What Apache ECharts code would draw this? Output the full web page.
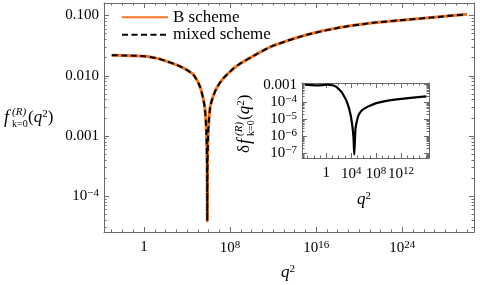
<!DOCTYPE html>
<html>
<head>
<meta charset="utf-8">
<script src="https://cdn.jsdelivr.net/npm/echarts@6/dist/echarts.min.js"></script>
<style>
  html, body { margin: 0; padding: 0; background: #fff; }
  #chart { width: 480px; height: 285px; }
</style>
</head>
<body>
<div id="chart"></div>
<script>
// main panel: log10(q^2) and log10(f)
const q2Exp = [-3.0, -2.0, -1.0, 0.0, 0.56, 1.3, 2.11, 2.9, 3.65, 4.58, 5.2, 5.5, 5.67, 5.8, 5.86, 5.88,
  5.9, 5.96, 6.05, 6.15, 6.35, 6.76, 7.38, 8.31, 8.92, 10.47, 12.02, 15.12, 18.2, 21.3, 24.4, 27.5, 30.0]
const fExp = [-1.66, -1.662, -1.666, -1.676, -1.687, -1.715, -1.76, -1.81, -1.87, -1.98, -2.18, -2.38, -2.56, -2.95, -3.5, -4.41,
  -3.5, -2.95, -2.7, -2.52, -2.38, -2.2, -2.04, -1.88, -1.8, -1.64, -1.5, -1.32, -1.2, -1.12, -1.07, -1.02, -0.98]

// inset: log10(q^2) and log10(delta f)
const dq2Exp = [-3.4, -2.5, -1.45, -0.5, 0.16, 1.0, 1.5, 2.0, 2.57, 3.38, 3.9, 4.23, 4.38, 4.5,
  4.62, 4.71, 5.0, 5.24, 5.7, 6.32, 7.2, 8.2, 10.34, 13.55, 16.08]
const dfExp = [-3.0, -3.02, -3.04, -3.02, -3.0, -3.03, -3.1, -3.25, -3.48, -4.06, -4.74, -5.52, -6.1, -7.07,
  -6.1, -5.52, -5.0, -4.74, -4.5, -4.35, -4.2, -4.06, -3.9, -3.77, -3.68]

const mainXTicks = [0, 8, 16, 24]
const mainYTicks = [-4, -3, -2, -1]
const insetXTicks = [0, 4, 8, 12]
const insetYTicks = [-7, -6, -5, -4, -3]

const mainX = [-3.72, 30.67]
const mainY = [-4.594, -0.792]
const insetX = [-3.89, 16.5]
const insetY = [-7.27, -2.9]

const FONT = 'Liberation Serif'
const FRAME = '#6b6b6b'
const ORANGE = '#f47321'

function decades(r) {
  const t = []
  for (let v = Math.ceil(r[0]); v <= r[1]; v++) t.push(v)
  return t
}
function logMinor(r) {
  const t = []
  for (let n = Math.floor(r[0]); n <= r[1]; n++) {
    for (let k = 2; k <= 9; k++) {
      const v = n + Math.log10(k)
      if (v >= r[0] && v <= r[1]) t.push(v)
    }
  }
  return t
}

const rich = {
  s: { fontFamily: FONT, fontSize: 11, color: '#000', padding: [0, 0, 6, 0] }
}
function powLabel(v) {
  if (v === 0) return '1'
  return '10{s|' + String(v).replace('-', '\u2212') + '}'
}
function yLabel(v) {
  return v >= -3 ? Math.pow(10, v).toFixed(3) : powLabel(v)
}

function axis(grid, pos, range, ticks, len, line, fmt) {
  const a = {
    type: 'value', gridIndex: grid, position: pos, min: range[0], max: range[1],
    axisLine: { show: line, onZero: false, lineStyle: { color: FRAME, width: 1 } },
    axisTick: { show: true, inside: true, length: len, customValues: ticks, lineStyle: { color: FRAME, width: 1 } },
    axisLabel: { show: false },
    splitLine: { show: false }
  }
  if (fmt) {
    a.axisLabel = {
      show: true, customValues: ticks, formatter: fmt, color: '#000',
      fontFamily: FONT, fontSize: 15, margin: pos === 'bottom' ? 8 : 5, rich: rich
    }
  }
  return a
}

function panel(grid, xr, yr, xMajor, xMinor, yMajor, yMinor) {
  return {
    x: [
      axis(grid, 'bottom', xr, xMajor, 5, true, powLabel),
      axis(grid, 'bottom', xr, xMinor, 2.5, false),
      axis(grid, 'top', xr, xMajor, 5, true),
      axis(grid, 'top', xr, xMinor, 2.5, false)
    ],
    y: [
      axis(grid, 'left', yr, yMajor, 5, true, yLabel),
      axis(grid, 'left', yr, yMinor, 2.5, false),
      axis(grid, 'right', yr, yMajor, 5, true),
      axis(grid, 'right', yr, yMinor, 2.5, false)
    ]
  }
}

const mainAxes = panel(0, mainX, mainY, mainXTicks, decades(mainX), mainYTicks, logMinor(mainY))
const insetAxes = panel(1, insetX, insetY, insetXTicks, decades(insetX), insetYTicks, logMinor(insetY))

const mainData = q2Exp.map((x, i) => [x, fExp[i]])
const insetData = dq2Exp.map((x, i) => [x, dfExp[i]])

const titleRich = {
  i: { fontFamily: FONT, fontSize: 17, fontStyle: 'italic', color: '#000' },
  s: { fontFamily: FONT, fontSize: 11, color: '#000', padding: [0, 0, 8, 0] }
}
function fLabel(x0, y0, rotation, prefix) {
  const children = []
  let x = 0
  if (prefix) {
    children.push({ type: 'text', x: 0, y: 0, style: { text: prefix, font: '17px "Liberation Serif"', fill: '#000', verticalAlign: 'middle' } })
    x = 9
  }
  children.push(
    { type: 'text', x: x, y: 0, style: { text: 'f', font: 'italic 18px "Liberation Serif"', fill: '#000', verticalAlign: 'middle' } },
    { type: 'text', x: x + 8, y: -6, style: { text: '(R)', font: 'italic 11px "Liberation Serif"', fill: '#000', verticalAlign: 'middle' } },
    { type: 'text', x: x + 8, y: 6, style: { text: 'k=0', font: '10px "Liberation Serif"', fill: '#000', verticalAlign: 'middle' } },
    { type: 'text', x: x + 24, y: 0, style: { text: '({i|q}{s|2})', rich: titleRich, font: '17px "Liberation Serif"', fill: '#000', verticalAlign: 'middle' } }
  )
  return { type: 'group', x: x0, y: y0, rotation: rotation, children: children }
}

const lineSeries = {
  type: 'line', symbol: 'none', smooth: 0.2
}

const chart = echarts.init(document.getElementById('chart'), null, { renderer: 'canvas' })
chart.setOption({
  animation: false,
  backgroundColor: '#fff',
  grid: [
    { left: 104, top: 3, width: 370, height: 229, containLabel: false },
    { left: 302, top: 83, width: 127, height: 75, containLabel: false, show: true, backgroundColor: '#fff', borderWidth: 0 }
  ],
  xAxis: mainAxes.x.concat(insetAxes.x),
  yAxis: mainAxes.y.concat(insetAxes.y),
  legend: {
    left: 121, top: 8.7, padding: 0, orient: 'vertical', itemWidth: 46, itemHeight: 16, itemGap: 0.6,
    itemStyle: { opacity: 0 },
    textStyle: { fontFamily: FONT, fontSize: 17, color: '#000' },
    data: ['B scheme', 'mixed scheme']
  },
  series: [
    Object.assign({}, lineSeries, {
      name: 'B scheme', xAxisIndex: 0, yAxisIndex: 0, data: mainData,
      lineStyle: { color: ORANGE, width: 3 }, itemStyle: { color: ORANGE }
    }),
    Object.assign({}, lineSeries, {
      name: 'mixed scheme', xAxisIndex: 0, yAxisIndex: 0, data: mainData,
      lineStyle: { color: '#000', width: 2, type: [6, 3.5] }, itemStyle: { color: '#000' }
    }),
    Object.assign({}, lineSeries, {
      name: 'delta', xAxisIndex: 4, yAxisIndex: 4, data: insetData,
      lineStyle: { color: '#000', width: 2.2 }, itemStyle: { color: '#000' }
    })
  ],
  graphic: [
    { type: 'text', x: 288, y: 273, style: { text: '{i|q}{s|2}', rich: titleRich, font: '17px "Liberation Serif"', fill: '#000', align: 'center', verticalAlign: 'middle' } },
    { type: 'text', x: 364, y: 200, style: { text: '{i|q}{s|2}', rich: titleRich, font: '17px "Liberation Serif"', fill: '#000', align: 'center', verticalAlign: 'middle' } },
    fLabel(4, 118, 0),
    fLabel(245, 153, Math.PI / 2, '\u03b4')
  ]
})
</script>
</body>
</html>
